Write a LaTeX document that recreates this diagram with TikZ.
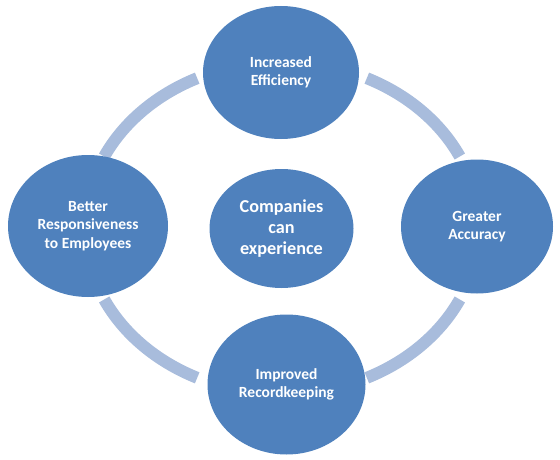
\documentclass[tikz,border=0pt]{standalone}
\usepackage{fontspec}
\setmainfont{Carlito}
\usetikzlibrary{shapes.geometric}
\definecolor{nodeblue}{HTML}{4F81BD}
\definecolor{ringblue}{HTML}{A8BCDC}
\tikzset{
  bubble/.style={ellipse, fill=nodeblue, draw=none, inner sep=0pt, align=center,
    text=white, font=\bfseries\fontsize{15.5}{18.5}\selectfont},
  hub/.style={bubble, font=\bfseries\fontsize{18.2}{21}\selectfont},
  ringarc/.style={draw=ringblue, line width=12pt, line cap=butt}
}
\begin{document}
\begin{tikzpicture}[x=1pt,y=-1pt]
\useasboundingbox (0,0) rectangle (560,460);
\coordinate (ring) at (282,228);
% ring arcs
\draw[ringarc] ([shift={(25.5:197 and 166)}]ring) arc[start angle=25.5, end angle=64.5, x radius=197, y radius=166];
\draw[ringarc] ([shift={(115.5:197 and 166)}]ring) arc[start angle=115.5, end angle=154.5, x radius=197, y radius=166];
\draw[ringarc] ([shift={(205.5:197 and 166)}]ring) arc[start angle=205.5, end angle=244.5, x radius=197, y radius=166];
\draw[ringarc] ([shift={(295.5:197 and 166)}]ring) arc[start angle=295.5, end angle=334.5, x radius=197, y radius=166];
% nodes
\node[bubble, minimum width=156pt, minimum height=133pt] (top) at (281,72.5) {Increased\\Efficiency};
\node[bubble, minimum width=152pt, minimum height=134pt] (right) at (477,226.5) {Greater\\Accuracy};
\node[bubble, minimum width=158pt, minimum height=140pt] (bottom) at (286.5,384.5) {Improved\\Recordkeeping};
\node[bubble, minimum width=160pt, minimum height=142pt] (left) at (88,226) {Better\\Responsiveness\\to Employees};
\node[hub, minimum width=144pt, minimum height=119pt] (center) at (281.5,228.5) {Companies\\can\\experience};
\end{tikzpicture}
\end{document}
